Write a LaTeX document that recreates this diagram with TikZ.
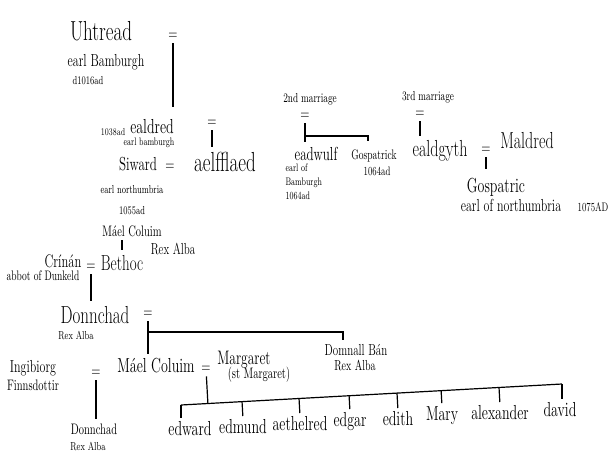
\documentclass[tikz,border=0pt]{standalone}
\usepackage{amsmath}
\usetikzlibrary{calc}

\tikzset{
  fs/.style={font=\fontsize{#1}{#1}\selectfont},
  eqsign/.style={fs=12,inner sep=1pt},
}

\begin{document}
\begin{tikzpicture}[x=1pt,y=-1pt,line width=1.2pt]
  \useasboundingbox (0,0) rectangle (610,455);

  \begin{scope}[every node/.style={inner sep=0pt,yscale=1.45}]
    % ealdormen of Bamburgh
    \node[fs=19]  (uhtred)        at (101,31)  {Uhtread};
    \node[fs=12]  (uhtredTitle)   at (106,62)  {earl Bamburgh};
    \node[fs=8]   (uhtredDate)    at (88,81)   {d1016ad};
    \node[eqsign] (uhtredEq)      at (173,36)  {=};
    \node[fs=7]   (ealdredDate)   at (113,132) {1038ad};
    \node[fs=14]  (ealdred)       at (152,127) {ealdred};
    \node[fs=7.5] (ealdredTitle)  at (149,143) {earl bamburgh};
    \node[eqsign] (ealdredEq)     at (212,123) {=};
    \node[fs=13]  (siward)        at (138,164) {Siward};
    \node[eqsign] (siwardEq)      at (170,167) {=};
    \node[fs=19]  (aelfflaed)     at (225,162) {aelfflaed};
    \node[fs=8]   (siwardTitle)   at (132,190) {earl northumbria};
    \node[fs=8]   (siwardDate)    at (132,211) {1055ad};

    % Alba
    \node[fs=10.5] (malcolmOne)      at (132,231) {Máel Coluim};
    \node[fs=11]   (malcolmOneTitle) at (173,249) {Rex Alba};
    \node[fs=12.5] (crinan)          at (63,261)  {Crínán};
    \node[fs=9.5]  (crinanTitle)     at (43,276)  {abbot of Dunkeld};
    \node[eqsign]  (crinanEq)        at (91,267)  {=};
    \node[fs=15]   (bethoc)          at (122,263) {Bethoc};
    \node[fs=17]   (donnchad)        at (95,315)  {Donnchad};
    \node[fs=8]    (donnchadTitle)   at (76,335)  {Rex Alba};
    \node[eqsign]  (donnchadEq)      at (148,314) {=};
    \node[fs=11]   (domnall)         at (356,350) {Domnall Bán};
    \node[fs=10]   (domnallTitle)    at (355,365) {Rex Alba};
    \node[fs=12]   (ingibiorg)       at (33,368)  {Ingibiorg};
    \node[fs=10.5] (ingibiorgName)   at (33,385)  {Finnsdottir};
    \node[eqsign]  (ingibiorgEq)     at (96,373)  {=};
    \node[fs=14]   (malcolm)         at (156,366) {Máel Coluim};
    \node[eqsign]  (malcolmEq)       at (206,369) {=};
    \node[fs=13.5] (margaret)        at (244,360) {Margaret};
    \node[fs=10.5] (margaretTitle)   at (259,375) {(st Margaret)};
    \node[fs=10.5] (donnchadTwo)     at (94,429)  {Donnchad};
    \node[fs=8]    (donnchadTwoTitle) at (88,446) {Rex Alba};

    % children of Máel Coluim and Margaret
    \node[fs=14] (edward)    at (190,429) {edward};
    \node[fs=14] (edmund)    at (243,427) {edmund};
    \node[fs=14] (aethelred) at (300,424) {aethelred};
    \node[fs=14] (edgar)     at (350,422) {edgar};
    \node[fs=14] (edith)     at (398,419) {edith};
    \node[fs=14] (mary)      at (442,416) {Mary};
    \node[fs=14] (alexander) at (500,413) {alexander};
    \node[fs=14] (david)     at (560,410) {david};

    % later marriages of ealdred's line
    \node[fs=9]    (secondNote)     at (310,99)  {2nd marriage};
    \node[eqsign]  (secondEq)       at (305,116) {=};
    \node[fs=13]   (eadwulf)        at (316,154) {eadwulf};
    \node[align=left,anchor=north west,font=\fontsize{7.5}{9.5}\selectfont]
                   (eadwulfTitle)   at (285,163) {earl of\\Bamburgh\\1064ad};
    \node[fs=9.5]  (gospatrickA)    at (374,156) {Gospatrick};
    \node[fs=8.5]  (gospatrickADate) at (377,171) {1064ad};
    \node[fs=9]    (thirdNote)      at (428,97)  {3rd marriage};
    \node[eqsign]  (thirdEq)        at (420,114) {=};
    \node[fs=16]   (ealdgyth)       at (440,151) {ealdgyth};
    \node[eqsign]  (ealdgythEq)     at (486,150) {=};
    \node[fs=16]   (maldred)        at (527,141) {Maldred};
    \node[fs=14]   (gospatricB)     at (496,187) {Gospatric};
    \node[fs=12]   (gospatricBTitle) at (511,205) {earl of northumbria};
    \node[fs=8.5]  (gospatricBDate) at (593,207) {1075AD};
  \end{scope}

  \coordinate (donnchadFork) at (148,332);
  \coordinate (domnallDrop)  at (343,340);
  \coordinate (kidsL)        at (181,405);
  \coordinate (kidsR)        at (562,384);
  \coordinate (secondFork)   at (305,136);

  \begin{scope}[every edge/.style={draw,shorten <=2pt,shorten >=4pt}]
    \path (uhtredEq)    edge[shorten >=12pt] (uhtredEq |- ealdred.north);
    \path (ealdredEq)   edge (ealdredEq |- aelfflaed.north);
    \path (bethoc.north |- malcolmOne.south) edge[shorten <=3pt] (bethoc.north);
    \path (crinanEq)    edge (crinanEq |- donnchad.north);
    \path (donnchadEq)  edge (donnchadEq |- malcolm.north);
    \path (ingibiorgEq) edge (ingibiorgEq |- donnchadTwo.north);
    \path (malcolmEq)   edge[shorten >=0pt] ($(kidsL)!(malcolmEq)!(kidsR)$);
    \path (secondEq)    edge (secondEq |- eadwulf.north);
    \path (thirdEq)     edge (thirdEq |- ealdgyth.north);
    \path (ealdgythEq)  edge[shorten >=8pt] (ealdgythEq |- gospatricB.north);
  \end{scope}

  \draw (donnchadFork) -- (donnchadFork -| domnallDrop) -- (domnallDrop);
  \draw (secondFork) -| ($(gospatrickA.north)+(-6,-8)$);
  \draw (kidsL) -- (kidsR);

  \begin{scope}[every edge/.style={draw,shorten >=3pt}]
    \path (kidsL) edge (kidsL |- edward.north);
    \path ($(kidsL)!(edmund.north)!(kidsR)$)    edge (edmund.north);
    \path ($(kidsL)!(aethelred.north)!(kidsR)$) edge (aethelred.north);
    \path ($(kidsL)!(edgar.north)!(kidsR)$)     edge (edgar.north);
    \path ($(kidsL)!(edith.north)!(kidsR)$)     edge (edith.north);
    \path ($(kidsL)!(mary.north)!(kidsR)$)      edge (mary.north);
    \path ($(kidsL)!(alexander.north)!(kidsR)$) edge (alexander.north);
    \path (kidsR) edge (kidsR |- david.north);
  \end{scope}

\end{tikzpicture}
\end{document}
